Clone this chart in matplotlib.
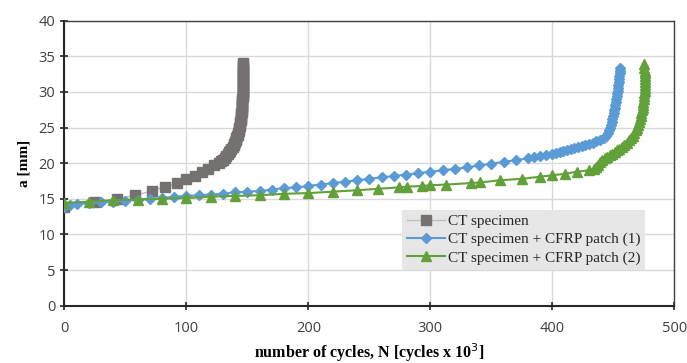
import numpy as np
import matplotlib
matplotlib.use("Agg")
import matplotlib.pyplot as plt

# crack length a [mm] vs number of cycles N [x 10^3]
ct_n = [0, 25, 43, 58, 71.6, 82.5, 92, 100, 107, 112.7, 118, 123,
        127, 128.5, 130, 131.3, 132.5, 133.8, 135, 136, 137, 138,
        138.8, 139.4, 140, 140.5, 141, 141.5, 142, 142.4, 142.8, 143.2,
        143.5, 143.8, 144, 144.3, 144.5, 144.7, 144.9, 145.1, 145.2, 145.4,
        145.5, 145.6, 145.7, 145.8, 145.9, 146.0, 146.0, 146.1, 146.1, 146.2,
        146.2, 146.3, 146.3, 146.3, 146.4, 146.4, 146.4, 146.5, 146.5, 146.5,
        146.5, 146.5, 146.5, 146.5, 146.5, 146.5, 146.5]
ct_a = [13.85, 14.5, 15.0, 15.5, 16.1, 16.7, 17.2, 17.8, 18.2, 18.7, 19.2, 19.7,
        20.0, 20.25, 20.5, 20.75, 21.0, 21.25, 21.5, 21.75, 22.0, 22.25,
        22.5, 22.75, 23.0, 23.25, 23.5, 23.75, 24.0, 24.25, 24.5, 24.75,
        25.0, 25.25, 25.5, 25.75, 26.0, 26.25, 26.5, 26.75, 27.0, 27.25,
        27.5, 27.75, 28.0, 28.25, 28.5, 28.75, 29.0, 29.25, 29.5, 29.75,
        30.0, 30.25, 30.5, 30.75, 31.0, 31.25, 31.5, 31.75, 32.0, 32.25,
        32.5, 32.75, 33.0, 33.25, 33.5, 33.75, 34.0]

p1_n = [0, 5, 10, 20, 30, 40, 50, 60, 70, 80, 90, 100, 110, 120, 130, 140, 150,
        160, 170, 180, 190, 200, 210, 220, 230, 240, 250, 260, 270, 280, 290,
        300, 310, 320, 330, 340, 350, 360, 370, 380, 385, 390, 395,
        400, 403, 406, 409, 412, 415, 418, 421, 424, 427, 430, 433, 436, 439,
        442, 444, 445.5, 446.5, 447.3, 448, 448.7, 449.3, 449.9, 450.4, 450.9,
        451.3, 451.7, 452.1, 452.5, 452.8, 453.1, 453.4, 453.7, 454, 454.3,
        454.6, 454.9, 455.2, 455.5, 455.8]
p1_a = [13.9, 14.1, 14.3, 14.4, 14.5, 14.6, 14.7, 14.9, 15.0, 15.1, 15.3, 15.4,
        15.5, 15.6, 15.7, 15.9, 16.0, 16.1, 16.3, 16.5, 16.6, 16.8, 17.0, 17.2,
        17.4, 17.6, 17.8, 18.0, 18.2, 18.4, 18.6, 18.8, 19.0, 19.2, 19.4, 19.7,
        19.9, 20.2, 20.4, 20.7, 20.85, 21.0, 21.15,
        21.3, 21.4, 21.55, 21.7, 21.8, 21.95, 22.1, 22.25, 22.4, 22.55, 22.7,
        22.9, 23.1, 23.3, 23.55, 23.8, 24.2, 24.6, 25.0, 25.4, 25.8, 26.2,
        26.6, 27.0, 27.4, 27.8, 28.2, 28.6, 29.0, 29.4, 29.8, 30.2, 30.6,
        31.0, 31.4, 31.8, 32.2, 32.6, 33.0, 33.4]

p2_n = [0, 20, 40, 60, 80, 100, 120, 140, 160, 180, 200, 220, 240, 257, 274, 281,
        293, 300, 313, 333, 341, 357, 375, 390, 400, 410, 420, 430,
        434, 436, 437.5, 439, 441, 443, 445, 447, 449, 451, 453, 455, 457,
        459, 461, 463, 464.5, 466, 467.3, 468.5, 469.5, 470.3, 471, 471.7,
        472.3, 472.9, 473.4, 473.9, 474.3, 474.7, 475, 475.3, 475.5, 475.7,
        475.8, 475.9, 475.9, 475.9, 475.9, 475.8, 475.7, 475.5, 475.4]
p2_a = [14.4, 14.6, 14.8, 14.9, 15.0, 15.1, 15.3, 15.4, 15.5, 15.7, 15.8, 16.0,
        16.2, 16.4, 16.6, 16.7, 16.8, 16.9, 17.0, 17.2, 17.3, 17.6, 17.8, 18.1,
        18.3, 18.5, 18.8, 19.0,
        19.2, 19.5, 19.8, 20.1, 20.4, 20.7, 20.9, 21.1, 21.35, 21.6, 21.8,
        22.05, 22.3, 22.55, 22.85, 23.2, 23.5, 23.85, 24.2, 24.6, 25.0, 25.4,
        25.8, 26.2, 26.6, 27.0, 27.4, 27.8, 28.2, 28.6, 29.0, 29.4, 29.8,
        30.2, 30.6, 31.0, 31.4, 31.8, 32.2, 32.6, 33.0, 33.4, 33.9]

labels = ["CT specimen", "CT specimen + CFRP patch (1)", "CT specimen + CFRP patch (2)"]

fig = plt.figure(figsize=(6.87, 3.63), dpi=100)
ax = fig.add_axes([0.0936, 0.158, 0.888, 0.785])

ax.plot(ct_n, ct_a, color="#bfbfbf", lw=1, marker="s", ms=6.5,
        mfc="#767171", mec="#767171", label=labels[0], zorder=3)
ax.plot(p1_n, p1_a, color="#5b9bd5", lw=1.5, marker="D", ms=5.5,
        mfc="#5b9bd5", mec="#5b9bd5", label=labels[1], zorder=4)
ax.plot(p2_n, p2_a, color="#62a03a", lw=1.5, marker="^", ms=7,
        mfc="#62a03a", mec="#62a03a", label=labels[2], zorder=5)

ax.set_xlim(0, 500)
ax.set_ylim(0, 40)
ax.set_xticks(np.arange(0, 501, 100))
ax.set_yticks(np.arange(0, 41, 5))
ax.grid(True, color="#d9d9d9", lw=1)
ax.set_axisbelow(True)

for s in ["left", "bottom"]:
    ax.spines[s].set_linewidth(1.5)
    ax.spines[s].set_color("#262626")
for s in ["top", "right"]:
    ax.spines[s].set_linewidth(1.0)
    ax.spines[s].set_color("#404040")

ax.tick_params(axis="both", direction="inout", length=6, width=1.2,
               color="#262626", labelcolor="#404040", labelsize=10.5)
ax.tick_params(axis="x", pad=8)
for t in ax.get_xticklabels() + ax.get_yticklabels():
    t.set_family("Open Sans")

ax.set_xlabel("number of cycles, N [cycles x 10$^3$]", family="Liberation Serif",
              fontweight="bold", fontsize=11.5, labelpad=4)
ax.set_ylabel("a [mm]", family="Liberation Serif", fontweight="bold",
              fontsize=11, labelpad=6)

leg = ax.legend(loc="lower right", bbox_to_anchor=(0.965, 0.10), frameon=True,
                prop={"family": "Liberation Serif", "size": 11},
                handlelength=2.5, labelspacing=0.3, borderpad=0.3,
                handletextpad=0.2, fancybox=False)
leg.get_frame().set_facecolor("#e6e6e6")
leg.get_frame().set_edgecolor("none")
leg.get_frame().set_alpha(1)
for t in leg.get_texts():
    t.set_color("#262626")

fig.savefig("out.png", dpi=100)
